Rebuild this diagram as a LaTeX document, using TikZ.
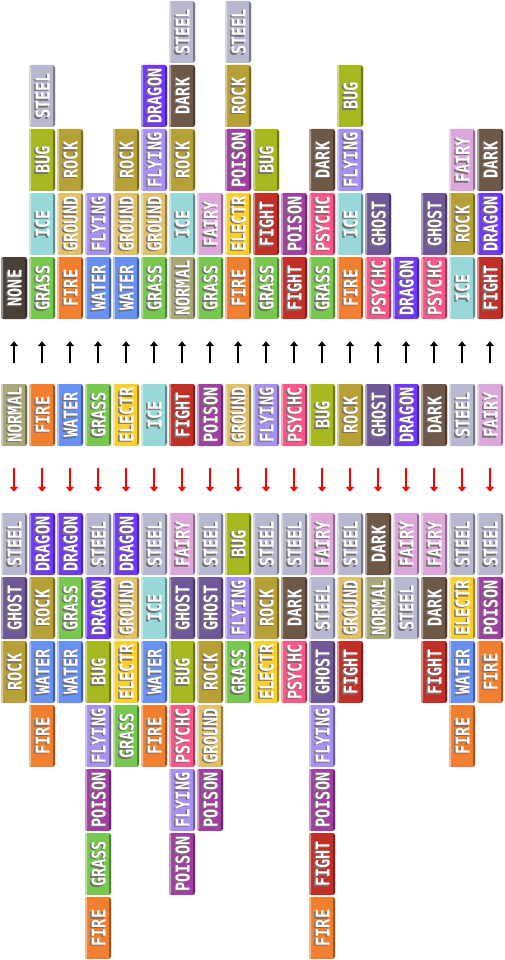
\documentclass[tikz,border=0pt]{standalone}
\usepackage{fontspec}
\newfontfamily\tilefont[FakeStretch=0.8]{DejaVu Sans Mono}
\usetikzlibrary{arrows.meta}
\definecolor{tyNONE}{HTML}{4A4038}
\definecolor{tyNORMAL}{HTML}{A8A878}
\definecolor{tyFIRE}{HTML}{F08030}
\definecolor{tyWATER}{HTML}{6890F0}
\definecolor{tyGRASS}{HTML}{78C850}
\definecolor{tyELECTR}{HTML}{F8D030}
\definecolor{tyICE}{HTML}{98D8D8}
\definecolor{tyFIGHT}{HTML}{C03028}
\definecolor{tyPOISON}{HTML}{A040A0}
\definecolor{tyGROUND}{HTML}{E0C068}
\definecolor{tyFLYING}{HTML}{A890F0}
\definecolor{tyPSYCHC}{HTML}{F85888}
\definecolor{tyBUG}{HTML}{A8B820}
\definecolor{tyROCK}{HTML}{B8A038}
\definecolor{tyGHOST}{HTML}{705898}
\definecolor{tyDRAGON}{HTML}{7038F8}
\definecolor{tyDARK}{HTML}{705848}
\definecolor{tySTEEL}{HTML}{B8B8D0}
\definecolor{tyFAIRY}{HTML}{DCA8DC}
\definecolor{tyshadow}{HTML}{787070}
\newcommand\tilelabel[1]{\rotatebox{90}{\makebox[0pt][l]{\kern-1.5pt\raisebox{1.5pt}{\color{tyshadow}#1}}\color{white}#1}}
\tikzset{
  typetile/.style={draw=none, fill=ty#1, minimum width=26pt, minimum height=62pt,
    inner sep=0pt, rounded corners=2.5pt,
    font=\tilefont\bfseries\fontsize{19pt}{19pt}\selectfont,
    path picture={
      \fill[ty#1!55!white] (path picture bounding box.north west) rectangle ([xshift=2pt]path picture bounding box.south west);
      \fill[ty#1!65!black] ([xshift=-2pt]path picture bounding box.north east) rectangle (path picture bounding box.south east);
    }},
  uparr/.style={line width=2.2pt, -{Triangle[width=8pt,length=5pt]}, black},
  downarr/.style={line width=2.2pt, -{Triangle[width=8pt,length=5pt]}, red}
}
\begin{document}
\begin{tikzpicture}[x=1pt,y=-1pt]
\useasboundingbox (0,0) rectangle (504,960);
% top stacks (bottom-up)
\foreach \lst [count=\i] in {
  {NONE},{GRASS,ICE,BUG,STEEL},{FIRE,GROUND,ROCK},{WATER,FLYING},
  {WATER,GROUND,ROCK},{GRASS,GROUND,FLYING,DRAGON},{NORMAL,ICE,ROCK,DARK,STEEL},
  {GRASS,FAIRY},{FIRE,ELECTR,POISON,ROCK,STEEL},{GRASS,FIGHT,BUG},{FIGHT,POISON},
  {GRASS,PSYCHC,DARK},{FIRE,ICE,FLYING,BUG},{PSYCHC,GHOST},{DRAGON},
  {PSYCHC,GHOST},{ICE,ROCK,FAIRY},{FIGHT,DRAGON,DARK}} {
  \foreach \ty [count=\k] in \lst {
    \node[typetile=\ty] (t-\i-\k) at ({28*\i-14},{352-64*\k}) {\tilelabel{\ty}};
  }
}
% middle row
\foreach \ty [count=\i] in {NORMAL,FIRE,WATER,GRASS,ELECTR,ICE,FIGHT,POISON,GROUND,
  FLYING,PSYCHC,BUG,ROCK,GHOST,DRAGON,DARK,STEEL,FAIRY} {
  \node[typetile=\ty] (m-\i) at ({28*\i-14},415) {\tilelabel{\ty}};
}
% bottom stacks (top-down)
\foreach \lst [count=\i] in {
  {STEEL,GHOST,ROCK},{DRAGON,ROCK,WATER,FIRE},{DRAGON,GRASS,WATER},
  {STEEL,DRAGON,BUG,FLYING,POISON,GRASS,FIRE},{DRAGON,GROUND,ELECTR,GRASS},
  {STEEL,ICE,WATER,FIRE},{FAIRY,GHOST,BUG,PSYCHC,FLYING,POISON},
  {STEEL,GHOST,ROCK,GROUND,POISON},{BUG,FLYING,GRASS},{STEEL,ROCK,ELECTR},
  {STEEL,DARK,PSYCHC},{FAIRY,STEEL,GHOST,FLYING,POISON,FIGHT,FIRE},
  {STEEL,GROUND,FIGHT},{DARK,NORMAL},{FAIRY,STEEL},{FAIRY,DARK,FIGHT},
  {STEEL,ELECTR,WATER,FIRE},{STEEL,POISON,FIRE}} {
  \foreach \ty [count=\k] in \lst {
    \node[typetile=\ty] (b-\i-\k) at ({28*\i-14},{480+64*\k}) {\tilelabel{\ty}};
  }
}
% arrows
\foreach \i in {1,...,18} {
  \draw[uparr] ([yshift=21pt]m-\i.north) -- ([yshift=-22pt]t-\i-1.south);
  \draw[downarr] ([yshift=-22pt]m-\i.south) -- ([yshift=21pt]b-\i-1.north);
}
\end{tikzpicture}
\end{document}
